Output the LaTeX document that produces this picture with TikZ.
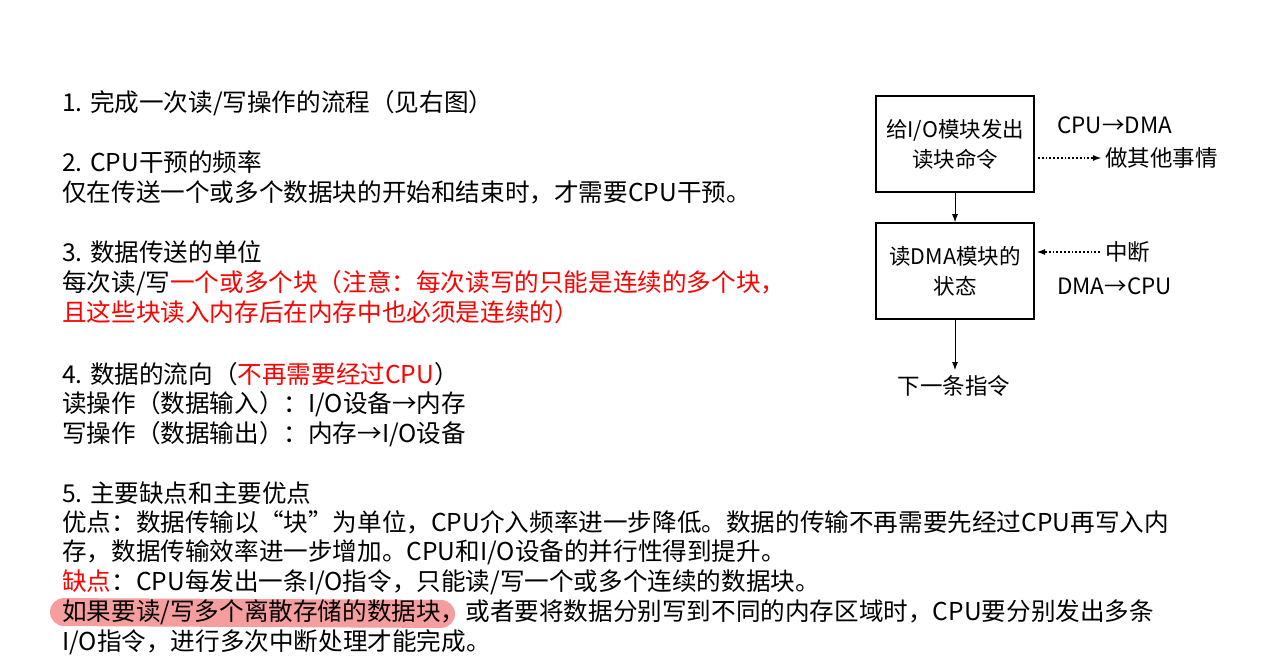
\documentclass[tikz,border=0pt]{standalone}
\usepackage{fontspec}
\setmainfont{Noto Sans CJK SC}
\usetikzlibrary{arrows.meta}
\definecolor{hl}{RGB}{235,40,40}
\begin{document}
\begin{tikzpicture}[x=1pt,y=-1pt,
  txt/.style={anchor=base west,inner sep=0pt,font=\fontsize{24.6}{28}\selectfont},
  box/.style={draw,line width=1.6pt,minimum width=158pt,minimum height=96pt,align=center,font=\fontsize{21.5}{30}\selectfont,inner sep=0pt},
  lab/.style={anchor=base west,inner sep=0pt,font=\fontsize{22.5}{26}\selectfont},
  arr/.style={-{Latex[length=8pt,width=6pt]},line width=0.9pt},
  dot/.style={-{Latex[length=9pt,width=6pt]},line width=1.8pt,dotted}]
\useasboundingbox (0,0) rectangle (1263,667);
\fill[hl,opacity=0.45,rounded corners=14pt] (50,598) -- (455,600) -- (455,628) -- (50,626) -- cycle;
\node[txt] (l1) at (62,111) {1. 完成一次读/写操作的流程（见右图）};
\node[txt] (l2) at (62,171) {2. CPU干预的频率};
\node[txt] (l3) at (62,201) {仅在传送一个或多个数据块的开始和结束时，才需要CPU干预。};
\node[txt] (l4) at (62,261) {3. 数据传送的单位};
\node[txt] (l5) at (62,291) {每次读/写\textcolor{red}{一个或多个块（注意：每次读写的只能是连续的多个块，}};
\node[txt,text=red] (l6) at (62,321) {且这些块读入内存后在内存中也必须是连续的）};
\node[txt] (l7) at (62,383) {4. 数据的流向（\textcolor{red}{不再需要经过CPU}）};
\node[txt] (l8) at (62,412) {读操作（数据输入）：I/O设备→内存};
\node[txt] (l9) at (62,442) {写操作（数据输出）：内存→I/O设备};
\node[txt] (l10) at (62,502) {5. 主要缺点和主要优点};
\node[txt] (l11) at (62,531) {优点：数据传输以“块”为单位，CPU介入频率进一步降低。数据的传输不再需要先经过CPU再写入内};
\node[txt] (l12) at (62,560) {存，数据传输效率进一步增加。CPU和I/O设备的并行性得到提升。};
\node[txt] (l13) at (62,590) {\textcolor{red}{缺点}：CPU每发出一条I/O指令，只能读/写一个或多个连续的数据块。};
\node[txt] (l14) at (62,620) {如果要读/写多个离散存储的数据块，或者要将数据分别写到不同的内存区域时，CPU要分别发出多条};
\node[txt] (l15) at (62,650) {I/O指令，进行多次中断处理才能完成。};
\node[box] (b1) at (955,144) {给I/O模块发出\\读块命令};
\node[box] (b2) at (955,271) {读DMA模块的\\状态};
\node[inner sep=0pt,font=\fontsize{22.5}{26}\selectfont] (nx) at (954,386) {下一条指令};
\coordinate (nxt) at (955,370);
\draw[arr] (b1.south) -- (b2.north);
\draw[arr] (b2.south) -- (nxt);
\node[lab] (c1) at (1057,133) {CPU→DMA};
\node[lab] (o1) at (1105,166) {做其他事情};
\node[lab] (i1) at (1105,260) {中断};
\node[lab] (c2) at (1057,294) {DMA→CPU};
\draw[dot] (1038,158) -- (1102,158);
\draw[dot] (1100,252) -- (1036,252);
\end{tikzpicture}
\end{document}
